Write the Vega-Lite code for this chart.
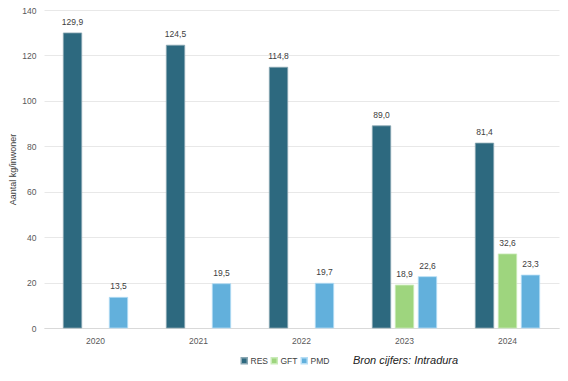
{
  "$schema": "https://vega.github.io/schema/vega-lite/v6.json",
  "width": 515,
  "height": 318,
  "autosize": {"type": "none"},
  "padding": {"left": 44, "top": 10, "right": 9, "bottom": 53},
  "background": "white",
  "config": {
    "view": {"stroke": null},
    "font": "Liberation Sans",
    "locale": {"number": {"decimal": ",", "thousands": ".", "grouping": [3], "currency": ["", " €"]}}
  },
  "data": {
    "values": [
      {"jaar": "2020", "cat": "RES", "waarde": 129.9},
      {"jaar": "2020", "cat": "PMD", "waarde": 13.5},
      {"jaar": "2021", "cat": "RES", "waarde": 124.5},
      {"jaar": "2021", "cat": "PMD", "waarde": 19.5},
      {"jaar": "2022", "cat": "RES", "waarde": 114.8},
      {"jaar": "2022", "cat": "PMD", "waarde": 19.7},
      {"jaar": "2023", "cat": "RES", "waarde": 89.0},
      {"jaar": "2023", "cat": "GFT", "waarde": 18.9},
      {"jaar": "2023", "cat": "PMD", "waarde": 22.6},
      {"jaar": "2024", "cat": "RES", "waarde": 81.4},
      {"jaar": "2024", "cat": "GFT", "waarde": 32.6},
      {"jaar": "2024", "cat": "PMD", "waarde": 23.3}
    ]
  },
  "encoding": {
    "x": {
      "field": "jaar", "type": "nominal",
      "scale": {"paddingInner": 0, "paddingOuter": 0},
      "axis": {"title": null, "labelAngle": 0, "ticks": false, "domainColor": "#D9D9D9", "labelColor": "#595959", "labelFontSize": 8.5, "labelPadding": 8}
    },
    "xOffset": {
      "field": "cat", "type": "nominal",
      "scale": {"domain": ["RES", "GFT", "PMD"], "paddingInner": 0.2, "paddingOuter": 0.84}
    },
    "y": {
      "field": "waarde", "type": "quantitative",
      "scale": {"domain": [0, 140]},
      "axis": {"title": "Aantal kg/inwoner", "titleFontWeight": "normal", "titleFontSize": 9, "titleColor": "#404040", "titlePadding": 4, "values": [0, 20, 40, 60, 80, 100, 120, 140], "domain": false, "ticks": false, "gridColor": "#E8E8E8", "labelColor": "#595959", "labelFontSize": 8.5, "labelPadding": 8}
    }
  },
  "layer": [
    {
      "mark": {"type": "bar", "strokeWidth": 0.8},
      "encoding": {
        "color": {
          "field": "cat", "type": "nominal",
          "scale": {"domain": ["RES", "GFT", "PMD"], "range": ["#2D697F", "#9ED57E", "#62B0DC"]},
          "legend": {
            "title": "Bron cijfers: Intradura",
            "titleOrient": "right",
            "titleFontStyle": "italic",
            "titleFontWeight": "normal",
            "titleFontSize": 11,
            "titleColor": "#222222",
            "titlePadding": 24,
            "orient": "none",
            "direction": "horizontal",
            "legendX": 196,
            "legendY": 346,
            "symbolType": "square",
            "symbolSize": 36,
            "labelFontSize": 8.5,
            "labelColor": "#404040",
            "labelOffset": 2,
            "columnPadding": 0
          }
        },
        "stroke": {
          "field": "cat", "type": "nominal",
          "scale": {"domain": ["RES", "GFT", "PMD"], "range": ["#8AA7B3", "#C9EBB8", "#B5DDF5"]},
          "legend": null
        }
      }
    },
    {
      "mark": {"type": "text", "baseline": "bottom", "dy": -6, "fontSize": 8.5, "color": "#404040"},
      "encoding": {
        "text": {"field": "waarde", "type": "quantitative", "format": ".1f"}
      }
    }
  ]
}
